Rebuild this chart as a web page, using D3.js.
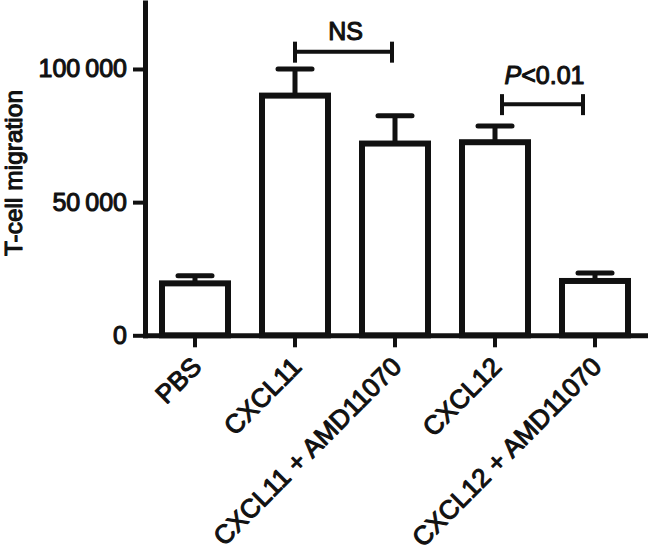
<!DOCTYPE html>
<html>
<head>
<meta charset="utf-8">
<script src="https://cdn.jsdelivr.net/npm/d3@7"></script>
<style>
    body { margin: 0; background: #fff; }
    svg { display: block; }
    text { font-family: "Liberation Sans", Arial, Helvetica, sans-serif; fill: #111; stroke: #111; stroke-width: 1.1px; stroke-linejoin: round; }
</style>
</head>
<body>
<svg id="chart" width="650" height="552"></svg>
<script>
/***************************************************************
    Data
****************************************************************/
const categories = ["PBS", "CXCL11", "CXCL11 + AMD11070", "CXCL12", "CXCL12 + AMD11070"];
const means = [19500, 90000, 72000, 72500, 20400];
const errors = [2900, 10000, 10400, 6100, 3000];
const yTicks = [0, 50000, 100000];
const compFrom = ["CXCL11", "CXCL12"];
const compTo = ["CXCL11 + AMD11070", "CXCL12 + AMD11070"];
const compLevel = [106500, 86800];
const compLabel = ["NS", "P<0.01"];

/***************************************************************
    Drawing
****************************************************************/
const ink = "#111";
const svg = d3.select("#chart");

const x = d3.scaleBand().domain(categories).range([145, 645]).paddingInner(0.34).paddingOuter(0.17);
const y = d3.scaleLinear().domain([0, 125000]).range([335.3, 2.4]);

// bars
svg.append("g").selectAll("rect").data(categories).enter().append("rect")
    .attr("x", d => x(d) + x.bandwidth() / 2 - 33)
    .attr("width", 66)
    .attr("y", (d, i) => y(means[i]))
    .attr("height", (d, i) => y(0) - y(means[i]))
    .attr("fill", "#fff")
    .attr("stroke", ink)
    .attr("stroke-width", 6);

// error bars (upper only)
const err = svg.append("g").attr("stroke", ink).attr("stroke-width", 5);
categories.forEach((c, i) => {
    let cx = x(c) + x.bandwidth() / 2;
    err.append("line").attr("x1", cx).attr("x2", cx)
        .attr("y1", y(means[i])).attr("y2", y(means[i] + errors[i]));
    err.append("line").attr("x1", cx - 17).attr("x2", cx + 17)
        .attr("y1", y(means[i] + errors[i])).attr("y2", y(means[i] + errors[i]))
        .attr("stroke-linecap", "round");
});

// axes
const yAxis = svg.append("g").attr("transform", "translate(145,0)")
    .call(d3.axisLeft(y).tickValues(yTicks).tickSize(12).tickSizeOuter(0).tickPadding(6)
        .tickFormat(d => d3.format(",")(d).replace(",", "\u2009")));
const xAxis = svg.append("g").attr("transform", "translate(0,335.3)")
    .call(d3.axisBottom(x).tickSize(12).tickSizeOuter(0));

[yAxis, xAxis].forEach(a => {
    a.attr("font-family", null);
    a.select(".domain").attr("stroke", ink).attr("stroke-width", 5).attr("stroke-linecap", "square");
    a.selectAll(".tick line").attr("stroke", ink).attr("stroke-width", 4);
    a.selectAll("text").attr("fill", ink);
});
yAxis.selectAll("text").attr("font-size", 25);
xAxis.selectAll(".tick text")
    .attr("font-size", 26)
    .attr("text-anchor", "end")
    .attr("dy", 0)
    .attr("y", 0)
    .attr("transform", "translate(8,33) rotate(-45)");

// y axis title
svg.append("text")
    .attr("transform", "translate(22,173) rotate(-90)")
    .attr("text-anchor", "middle")
    .attr("font-size", 24.5)
    .text("T-cell migration");

// significance brackets
const insets = [[0, -3], [7, -12]];
const labelLift = [12, 20];
compLabel.forEach((label, i) => {
    let x1 = x(compFrom[i]) + x.bandwidth() / 2 + insets[i][0];
    let x2 = x(compTo[i]) + x.bandwidth() / 2 + insets[i][1];
    let yy = y(compLevel[i]);
    let g = svg.append("g").attr("stroke", ink).attr("stroke-width", 4);
    g.append("line").attr("x1", x1).attr("x2", x2).attr("y1", yy).attr("y2", yy);
    g.append("line").attr("x1", x1).attr("x2", x1).attr("y1", yy - 10).attr("y2", yy + 11);
    g.append("line").attr("x1", x2).attr("x2", x2).attr("y1", yy - 10).attr("y2", yy + 11);

    let t = svg.append("text")
        .attr("x", (x1 + x2) / 2 + 2)
        .attr("y", yy - labelLift[i])
        .attr("text-anchor", "middle")
        .attr("font-size", 25);
    if (label.startsWith("P")) {
        t.append("tspan").attr("font-style", "italic").text("P");
        t.append("tspan").text(label.slice(1));
    } else {
        t.text(label);
    }
});
</script>
</body>
</html>
